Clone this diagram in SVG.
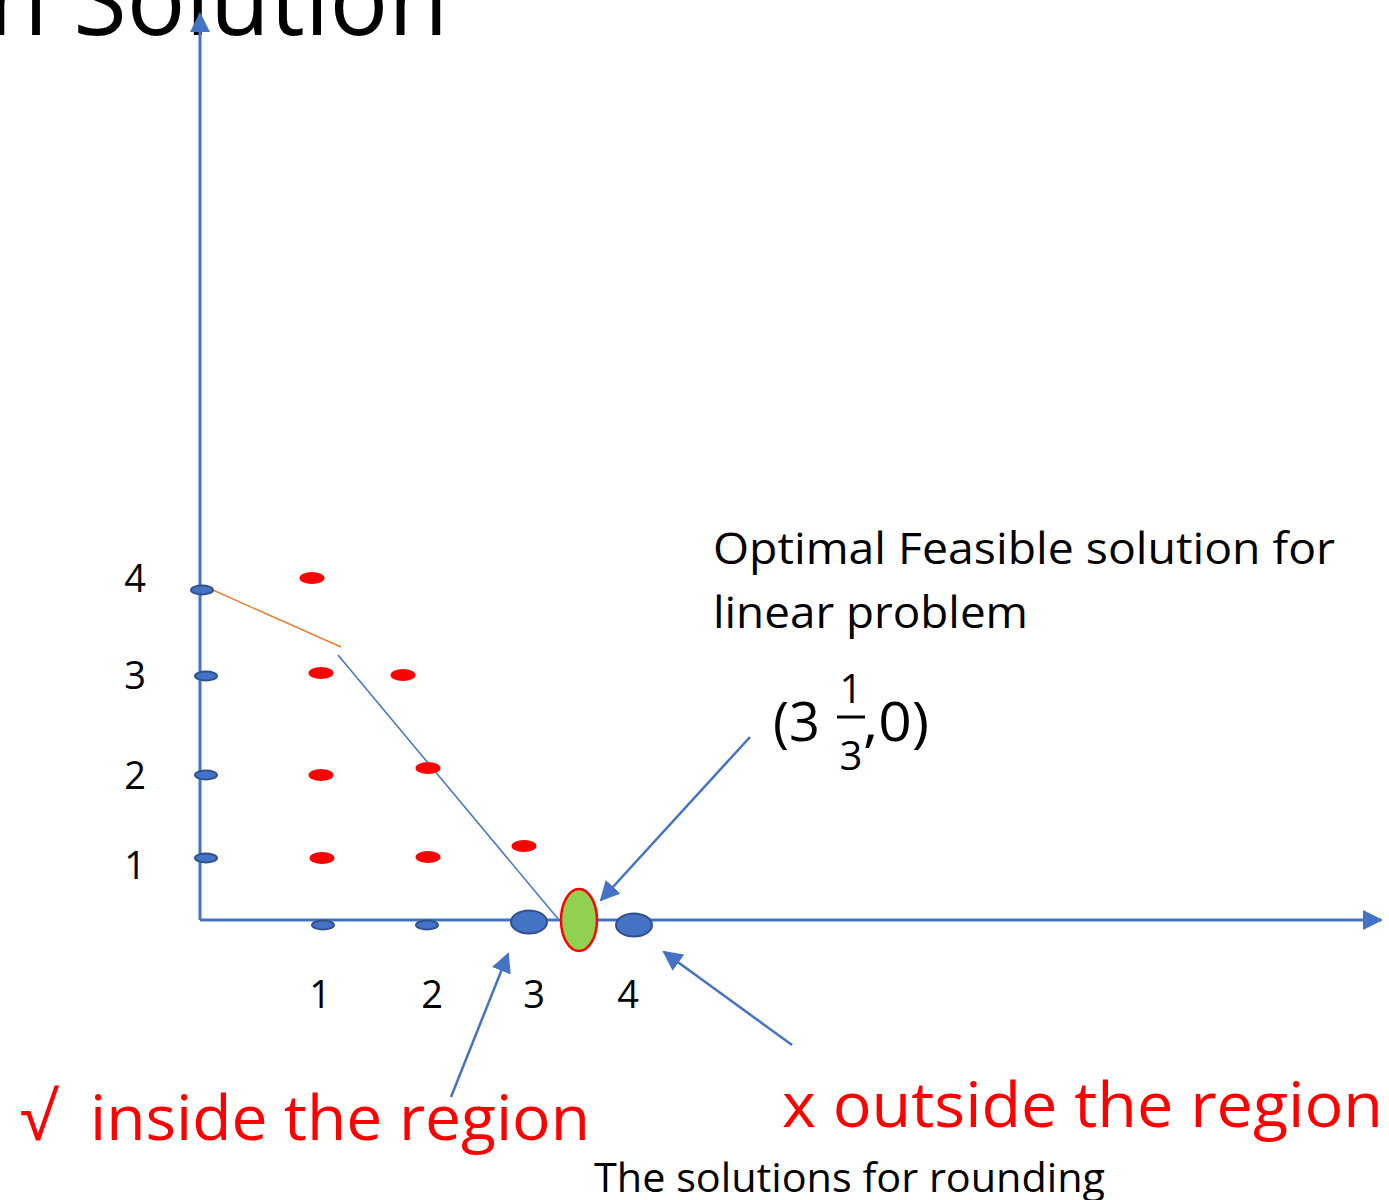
<svg xmlns="http://www.w3.org/2000/svg" width="1389" height="1200" viewBox="0 0 1389 1200">
<style>
  text { font-family: "Open Sans", "Liberation Sans", sans-serif; }
  .num { font-size: 38px; fill: #000; text-anchor: middle; }
  .blk { fill: #000; }
  .red { fill: #ff0000; }
  .bdot { fill: #4472c4; stroke: #2f528f; stroke-width: 2; }
  .rdot { fill: #ff0000; }
  .axis { stroke: #4472c4; stroke-width: 3; fill: none; }
  .arr { stroke: #4472c4; stroke-width: 2.5; fill: none; }
</style>
<defs>
  <marker id="ahs" viewBox="0 0 10 10" refX="9" refY="5" markerWidth="20" markerHeight="20" orient="auto" markerUnits="userSpaceOnUse">
    <path d="M0,0 L10,5 L0,10 z" fill="#4472c4"/>
  </marker>
</defs>
<rect width="1389" height="1200" fill="#fff"/>
<text x="-12" y="35" font-size="100" class="blk" textLength="460" lengthAdjust="spacingAndGlyphs">n Solution</text>
<g id="connectors">
  <line class="axis" x1="200" y1="920" x2="200" y2="14" marker-end="url(#ahs)"/>
  <line class="axis" x1="200" y1="920" x2="1381" y2="920" marker-end="url(#ahs)"/>
  <line x1="206" y1="587" x2="341" y2="647" stroke="#ed7d31" stroke-width="1.5"/>
  <line x1="338" y1="655" x2="559" y2="920" stroke="#4472c4" stroke-width="1.5"/>
  <line class="arr" x1="750" y1="737" x2="601" y2="900" marker-end="url(#ahs)"/>
  <line class="arr" x1="451" y1="1097" x2="508" y2="954" marker-end="url(#ahs)"/>
  <line class="arr" x1="792" y1="1045" x2="664" y2="952" marker-end="url(#ahs)"/>
</g>
<g id="y-dots">
  <ellipse class="bdot" cx="202" cy="590" rx="11" ry="4.5"/>
  <ellipse class="bdot" cx="206" cy="676" rx="11" ry="4.5"/>
  <ellipse class="bdot" cx="206" cy="775" rx="11" ry="4.5"/>
  <ellipse class="bdot" cx="206" cy="858" rx="11" ry="4.5"/>
</g>
<g id="x-dots">
  <ellipse class="bdot" cx="323" cy="925" rx="11" ry="4.5"/>
  <ellipse class="bdot" cx="427" cy="925" rx="11" ry="4.5"/>
  <ellipse class="bdot" cx="529" cy="922" rx="18" ry="11.5"/>
  <ellipse class="bdot" cx="634" cy="925" rx="18" ry="11.5"/>
</g>
<g id="optimal-point">
  <ellipse cx="579" cy="920" rx="18" ry="31" fill="#92d050" stroke="#ff0000" stroke-width="2.5"/>
</g>
<g id="red-dots">
  <ellipse class="rdot" cx="312" cy="578" rx="12.5" ry="6"/>
  <ellipse class="rdot" cx="321" cy="673" rx="12.5" ry="6"/>
  <ellipse class="rdot" cx="403" cy="675" rx="12.5" ry="6"/>
  <ellipse class="rdot" cx="321" cy="775" rx="12.5" ry="6"/>
  <ellipse class="rdot" cx="428" cy="768" rx="12.5" ry="6"/>
  <ellipse class="rdot" cx="322" cy="858" rx="12.5" ry="6"/>
  <ellipse class="rdot" cx="428" cy="857" rx="12.5" ry="6"/>
  <ellipse class="rdot" cx="524" cy="846" rx="12.5" ry="6"/>
</g>
<g id="y-labels">
  <text class="num" x="135" y="592">4</text>
  <text class="num" x="135" y="689">3</text>
  <text class="num" x="135" y="789">2</text>
  <text class="num" x="135" y="879">1</text>
</g>
<g id="x-labels">
  <text class="num" x="320" y="1008">1</text>
  <text class="num" x="432" y="1008">2</text>
  <text class="num" x="534" y="1008">3</text>
  <text class="num" x="628" y="1008">4</text>
</g>
<g id="optimal-label">
  <text x="713" y="564" font-size="44" class="blk" textLength="622" lengthAdjust="spacingAndGlyphs">Optimal Feasible solution for</text>
  <text x="713" y="628" font-size="44" class="blk" textLength="315" lengthAdjust="spacingAndGlyphs">linear problem</text>
</g>
<g id="coord-label">
  <text x="773" y="741" font-size="54" class="blk">(3</text>
  <text x="851" y="703" font-size="40" class="blk" text-anchor="middle">1</text>
  <line x1="837" y1="717" x2="865" y2="717" stroke="#000" stroke-width="3"/>
  <text x="851" y="770" font-size="40" class="blk" text-anchor="middle">3</text>
  <text x="863" y="741" font-size="54" class="blk" textLength="66" lengthAdjust="spacingAndGlyphs">,0)</text>
</g>
<g id="inside-label">
  <text x="20" y="1140" font-size="66" class="red">√</text>
  <text x="90" y="1140" font-size="62" class="red" textLength="500" lengthAdjust="spacingAndGlyphs">inside the region</text>
</g>
<g id="outside-label">
  <text x="782" y="1127" font-size="62" class="red" textLength="601" lengthAdjust="spacingAndGlyphs">x outside the region</text>
</g>
<g id="rounding-label">
  <text x="594" y="1192" font-size="40" class="blk" textLength="511" lengthAdjust="spacingAndGlyphs">The solutions for rounding</text>
</g>
</svg>
